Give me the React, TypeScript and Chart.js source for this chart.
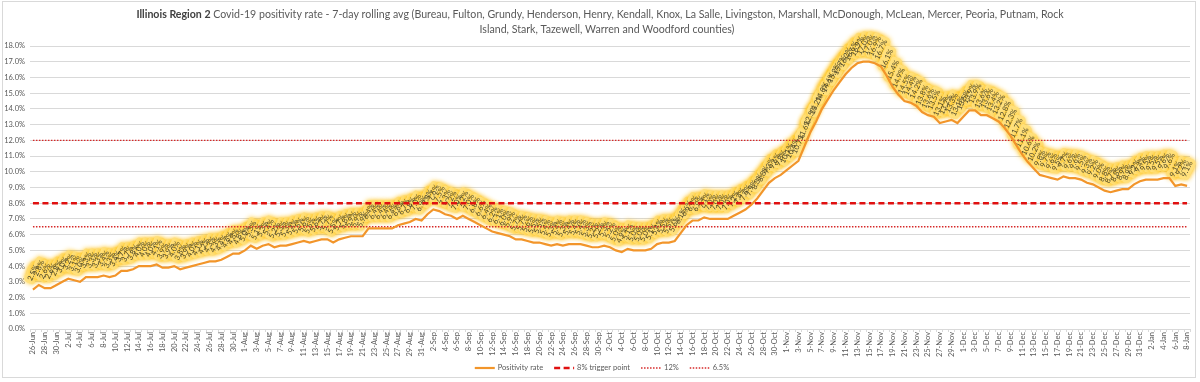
import React, { useEffect, useRef } from "react";
import { Chart, registerables } from "chart.js";
Chart.register(...registerables);

// ---- categories (daily, 26-Jun to 8-Jan) ----
const monthSpans: [string, number, number][] = [
  ["Jun", 26, 30], ["Jul", 1, 31], ["Aug", 1, 31], ["Sep", 1, 30],
  ["Oct", 1, 31], ["Nov", 1, 30], ["Dec", 1, 31], ["Jan", 1, 8],
];
const categories: string[] = monthSpans.flatMap(([m, a, b]) =>
  Array.from({ length: b - a + 1 }, (_, k) => `${a + k}-${m}`)
);

// ---- positivity rate (%), by month ----
const junVals = [2.5, 2.8, 2.6, 2.6, 2.8];
const julVals = [3.0, 3.2, 3.1, 3.0, 3.3, 3.3, 3.3, 3.4, 3.3, 3.4, 3.7, 3.7, 3.8, 4.0, 4.0, 4.0, 4.1, 3.9, 3.9, 4.0, 3.8, 3.9, 4.0, 4.1, 4.2, 4.3, 4.3, 4.4, 4.6, 4.8, 4.8];
const augVals = [5.0, 5.3, 5.1, 5.3, 5.4, 5.2, 5.3, 5.3, 5.4, 5.5, 5.6, 5.5, 5.6, 5.7, 5.7, 5.5, 5.7, 5.8, 5.9, 5.9, 5.9, 6.4, 6.4, 6.4, 6.4, 6.4, 6.6, 6.7, 6.8, 7.0, 6.9];
const sepVals = [7.3, 7.6, 7.5, 7.3, 7.2, 7.0, 7.2, 7.0, 6.8, 6.6, 6.4, 6.2, 6.1, 6.0, 5.9, 5.7, 5.7, 5.6, 5.5, 5.5, 5.4, 5.3, 5.4, 5.3, 5.4, 5.4, 5.4, 5.3, 5.2, 5.2];
const octVals = [5.3, 5.2, 5.0, 4.9, 5.1, 5.0, 5.0, 5.0, 5.1, 5.4, 5.5, 5.5, 5.6, 6.1, 6.6, 6.9, 6.9, 7.1, 7.0, 7.0, 7.0, 7.0, 7.2, 7.4, 7.6, 7.9, 8.3, 8.8, 9.3, 9.6, 9.8];
const novVals = [10.1, 10.4, 10.7, 11.6, 12.5, 13.2, 14.0, 14.6, 15.2, 15.7, 16.2, 16.6, 16.9, 17.0, 17.0, 16.9, 16.7, 16.1, 15.4, 14.9, 14.5, 14.4, 14.2, 13.8, 13.6, 13.5, 13.1, 13.2, 13.3, 13.1];
const decVals = [13.5, 13.9, 13.9, 13.6, 13.6, 13.4, 13.2, 12.8, 12.3, 11.7, 11.1, 10.6, 10.2, 9.8, 9.7, 9.6, 9.5, 9.7, 9.6, 9.6, 9.5, 9.3, 9.2, 9.0, 8.8, 8.7, 8.8, 8.9, 8.9, 9.2, 9.4];
const janVals = [9.5, 9.5, 9.5, 9.6, 9.6, 9.1, 9.2, 9.1];
const positivity: number[] = [...junVals, ...julVals, ...augVals, ...sepVals, ...octVals, ...novVals, ...decVals, ...janVals];

// ---- thresholds ----
const TRIGGER = 8;
const HIGH = 12;
const LOW = 6.5;

const seriesNames = ["Positivity rate", "8% trigger point", "12%", "6.5%"];
const TITLE_BOLD = "Illinois Region 2";
const TITLE_REST = " Covid-19 positivity rate - 7-day rolling avg (Bureau, Fulton, Grundy, Henderson, Henry, Kendall, Knox, La Salle, Livingston, Marshall, McDonough, McLean, Mercer, Peoria, Putnam, Rock";
const TITLE_LINE2 = "Island, Stark, Tazewell, Warren and Woodford counties)";

const FONT = "Lato, 'Open Sans', sans-serif";
const ORANGE = "#F2952A";
const RED = "#E01010";
const DOT_RED = "#D62828";

const framePlugin = {
  id: "frame",
  beforeDraw(chart: any) {
    const ctx = chart.ctx;
    ctx.save();
    ctx.fillStyle = "#ffffff";
    ctx.fillRect(0, 0, chart.width, chart.height);
    ctx.strokeStyle = "#d9d9d9";
    ctx.lineWidth = 1;
    ctx.strokeRect(2.5, 1.5, 1193, 376);
    ctx.restore();
  },
};

const titlePlugin = {
  id: "customTitle",
  afterDraw(chart: any) {
    const ctx = chart.ctx;
    ctx.save();
    const size = 10.6;
    const bold = `bold ${size}px ${FONT}`;
    const normal = `${size}px ${FONT}`;
    ctx.textBaseline = "middle";
    ctx.font = bold;
    const wb = ctx.measureText(TITLE_BOLD).width;
    ctx.font = normal;
    const wn = ctx.measureText(TITLE_REST).width;
    const x0 = 600 - (wb + wn) / 2;
    ctx.textAlign = "left";
    ctx.fillStyle = "#404040";
    ctx.font = bold;
    ctx.fillText(TITLE_BOLD, x0, 15);
    ctx.fillStyle = "#595959";
    ctx.font = normal;
    ctx.fillText(TITLE_REST, x0 + wb, 15);
    ctx.textAlign = "center";
    ctx.fillText(TITLE_LINE2, 607, 30);
    ctx.restore();
  },
};

const labelPlugin = {
  id: "glowLabels",
  beforeDatasetsDraw(chart: any) {
    const meta = chart.getDatasetMeta(0);
    const vals = chart.data.datasets[0].data as number[];
    const ctx = chart.ctx;
    const angle = (-65 * Math.PI) / 180;
    const off = 17;
    ctx.save();
    ctx.font = `7.5px ${FONT}`;
    ctx.textAlign = "center";
    ctx.textBaseline = "middle";
    ctx.lineJoin = "round";
    meta.data.forEach((pt: any, i: number) => {
      const t = vals[i].toFixed(1) + "%";
      ctx.save();
      ctx.translate(pt.x, pt.y - off);
      ctx.rotate(angle);
      ctx.shadowColor = "rgba(255,190,0,0.95)";
      ctx.shadowBlur = 5;
      ctx.strokeStyle = "rgba(255,224,125,0.97)";
      ctx.lineWidth = 6.5;
      ctx.strokeText(t, 0, 0);
      ctx.restore();
    });
    ctx.fillStyle = "#4a4528";
    meta.data.forEach((pt: any, i: number) => {
      const t = vals[i].toFixed(1) + "%";
      ctx.save();
      ctx.translate(pt.x, pt.y - off);
      ctx.rotate(angle);
      ctx.fillText(t, 0, 0);
      ctx.restore();
    });
    ctx.restore();
  },
};

const legendPlugin = {
  id: "customLegend",
  afterDraw(chart: any) {
    const ctx = chart.ctx;
    const ds = chart.data.datasets;
    ctx.save();
    ctx.font = `7.5px ${FONT}`;
    ctx.textBaseline = "middle";
    ctx.textAlign = "left";
    const box = 20, gap = 3, itemGap = 11;
    const widths = ds.map((d: any) => box + gap + ctx.measureText(d.label).width);
    const total = widths.reduce((a: number, b: number) => a + b, 0) + itemGap * (ds.length - 1);
    let x = 602 - total / 2;
    const y = 368;
    ds.forEach((d: any, i: number) => {
      ctx.beginPath();
      ctx.strokeStyle = d.borderColor;
      ctx.lineWidth = d.borderWidth;
      ctx.setLineDash(d.borderDash || []);
      ctx.moveTo(x, y);
      ctx.lineTo(x + box, y);
      ctx.stroke();
      ctx.setLineDash([]);
      ctx.fillStyle = "#595959";
      ctx.fillText(d.label, x + box + gap, y);
      x += widths[i] + itemGap;
    });
    ctx.restore();
  },
};

export default function App() {
  const ref = useRef<HTMLCanvasElement | null>(null);
  useEffect(() => {
    document.body.style.margin = "0";
    if (!ref.current) return;
    const chart = new Chart(ref.current, {
      type: "line",
      data: {
        labels: categories,
        datasets: [
          { label: seriesNames[0], data: positivity, borderColor: ORANGE, borderWidth: 2.2, pointRadius: 0, tension: 0, fill: false },
          { label: seriesNames[1], data: categories.map(() => TRIGGER), borderColor: RED, borderWidth: 2.4, borderDash: [6, 3.5], pointRadius: 0, fill: false },
          { label: seriesNames[2], data: categories.map(() => HIGH), borderColor: DOT_RED, borderWidth: 1.4, borderDash: [1.5, 1.5], pointRadius: 0, fill: false },
          { label: seriesNames[3], data: categories.map(() => LOW), borderColor: DOT_RED, borderWidth: 1.4, borderDash: [1.5, 1.5], pointRadius: 0, fill: false },
        ],
      },
      options: {
        animation: false,
        responsive: false,
        events: [],
        layout: { padding: { top: 46, left: 0, right: 10, bottom: 0 } },
        plugins: { legend: { display: false }, title: { display: false }, tooltip: { enabled: false } },
        scales: {
          x: {
            type: "category",
            offset: true,
            afterFit: (s: any) => { s.height = 53; },
            grid: { drawOnChartArea: false, drawTicks: true, tickLength: 3, color: "#d9d9d9", offset: true },
            border: { display: true, color: "#d9d9d9" },
            ticks: {
              autoSkip: false,
              maxRotation: 90,
              minRotation: 90,
              padding: 0,
              color: "#595959",
              font: { family: FONT, size: 7.5 },
              callback: (_v: any, i: number) => (i % 2 === 0 ? categories[i] : ""),
            },
          },
          y: {
            min: 0,
            max: 18,
            afterFit: (s: any) => { s.width = 30; },
            grid: { color: "#d9d9d9", drawTicks: false },
            border: { display: false },
            ticks: {
              stepSize: 1,
              padding: 5,
              color: "#595959",
              font: { family: FONT, size: 7.5 },
              callback: (v: any) => Number(v).toFixed(1) + "%",
            },
          },
        },
      },
      plugins: [framePlugin, labelPlugin, titlePlugin, legendPlugin],
    });
    return () => chart.destroy();
  }, []);
  return (
    <div style={{ width: 1200, height: 382 }}>
      <canvas ref={ref} width={1200} height={382} style={{ width: 1200, height: 382, display: "block" }} />
    </div>
  );
}
